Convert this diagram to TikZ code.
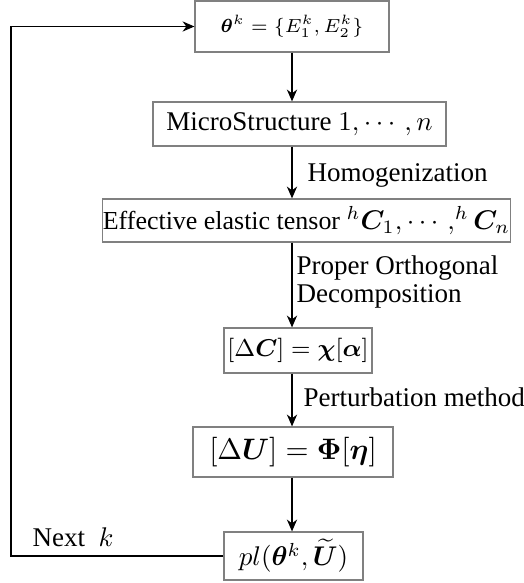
\documentclass[tikz,border=0pt]{standalone}
\usepackage{amsmath}
\usepackage{bm}
\usepackage{fontspec}
\setmainfont{Liberation Serif}
\usetikzlibrary{arrows.meta}
\definecolor{boxgray}{RGB}{128,128,128}
\newcommand\unitpx{0.37pt}
\newcommand\sizedto[1]{\fontsize{#1}{1.2\dimexpr#1pt\relax}\selectfont}
\begin{document}
\begin{tikzpicture}[x=0.37pt,y=-0.37pt,
  box/.style={draw=boxgray, line width=0.45pt, inner sep=0pt},
  flow/.style={draw=black, line width=0.4pt, -{Stealth[length=4.4pt,width=3.8pt]}},
  lbl/.style={inner sep=0pt, anchor=base west, align=left}]
\useasboundingbox (0,0) rectangle (524,583);

% process boxes
\node[box, minimum width=194*\unitpx, minimum height=51*\unitpx] (n1) at (292,26.5)
  {\sizedto{6.8}$\bm{\theta}^k=\{E_1^k,E_2^k\}$};
\node[box, minimum width=293*\unitpx, minimum height=44*\unitpx] (n2) at (299.5,124)
  {MicroStructure $1,\cdots,n$};
\node[box, minimum width=407*\unitpx, minimum height=43*\unitpx] (n3) at (306.5,220.5)
  {\sizedto{9.6}Effective elastic tensor ${}^h\bm{C}_1,\cdots,^h\bm{C}_n$};
\node[box, minimum width=148*\unitpx, minimum height=45*\unitpx] (n4) at (298,350.5)
  {\sizedto{8.9}$[\Delta\bm{C}]=\bm{\chi}[\bm{\alpha}]$};
\node[box, minimum width=200*\unitpx, minimum height=50*\unitpx] (n5) at (293,452)
  {\sizedto{11.3}$[\Delta\bm{U}]=\bm{\Phi}[\bm{\eta}]$};
\node[box, minimum width=139*\unitpx, minimum height=48*\unitpx] (n6) at (293.5,556)
  {$pl(\bm{\theta}^k,\widetilde{\bm{U}})$};

% step labels
\node[lbl] (l1) at (307,181) {Homogenization};
\node[lbl] (l2) at (296,302) {Proper Orthogonal\\[-2pt]Decomposition};
\node[lbl] (l3) at (303,406) {Perturbation method};
\node[lbl] (l4) at (32,546) {Next \ $k$};

% connectors
\draw[flow] (n1.south -| 292,0) -- (n2.north -| 292,0);
\draw[flow] (n2.south -| 292,0) -- (n3.north -| 292,0);
\draw[flow] (n3.south -| 292,0) -- (n4.north -| 292,0);
\draw[flow] (n4.south -| 292,0) -- (n5.north -| 292,0);
\draw[flow] (n5.south -| 292,0) -- (n6.north -| 292,0);

% feedback loop
\coordinate (cl) at (11,0);
\draw[flow] (n6.west) -| (n1.west -| cl) -- (n1.west);
\end{tikzpicture}
\end{document}
